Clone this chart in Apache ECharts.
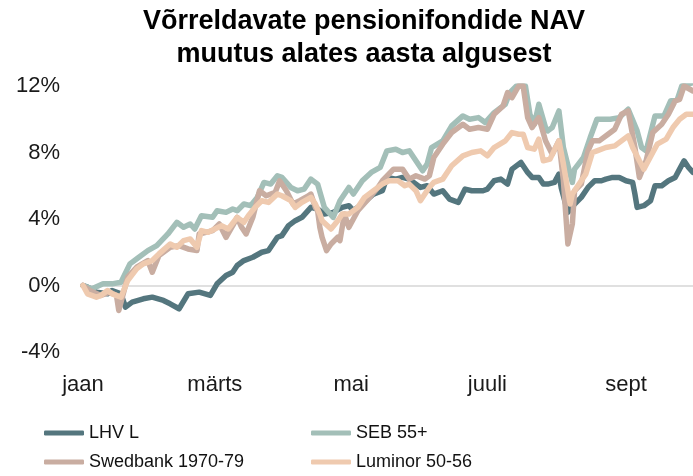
<!DOCTYPE html>
<html lang="et" style="height: 100%">

<head>
  <meta charset="utf-8">
</head>

<body style="height: 100%; margin: 0;">
  <div id="container" style="width: 693px; height: 476px;"></div>

  <script type="text/javascript" src="https://cdn.jsdelivr.net/npm/echarts@6/dist/echarts.min.js"></script>

  <script type="text/javascript">
    // x = päev aasta algusest, y = muutus %
    var monthLabels = ['jaan', 'märts', 'mai', 'juuli', 'sept'];
    var monthDays = [0, 59, 120, 181, 243];

    var lhv = [[0,0],[2,-0.1],[6,-0.4],[11,-0.5],[13,-0.3],[17,-0.5],[19,-1.3],[22,-1.0],[27,-0.8],[31,-0.7],[36,-0.9],[39,-1.1],[43,-1.4],[47,-0.5],[52,-0.4],[57,-0.6],[60,0.1],[64,0.6],[67,0.8],[69,1.2],[72,1.5],[76,1.7],[80,2.0],[83,2.1],[87,2.9],[89,3.0],[92,3.6],[95,3.9],[98,4.1],[102,4.7],[105,4.6],[108,4.3],[112,4.4],[116,4.7],[119,4.8],[121,4.5],[125,4.9],[130,5.5],[134,5.7],[136,6.5],[140,6.4],[143,6.5],[146,6.4],[151,5.9],[154,6.0],[157,5.5],[161,5.7],[164,5.2],[168,5.0],[171,5.8],[174,5.7],[179,5.7],[181,5.8],[184,6.3],[187,6.4],[190,6.1],[192,7.0],[196,7.4],[199,6.8],[201,6.5],[204,6.5],[206,6.1],[208,6.1],[211,6.2],[213,6.7],[214,5.9],[217,4.4],[220,4.9],[223,5.3],[226,5.9],[229,6.3],[232,6.3],[234,6.4],[237,6.5],[240,6.5],[243,6.3],[246,6.2],[247,5.5],[248,4.7],[251,4.8],[254,5.1],[256,6.0],[259,6.0],[262,6.3],[265,6.5],[267,7.0],[269,7.5],[271,7.1],[273,6.8]];

    var seb = [[0,0],[4,-0.2],[9,0.1],[13,0.1],[17,0.2],[21,1.3],[25,1.7],[29,2.1],[33,2.4],[38,3.1],[42,3.8],[45,3.5],[48,3.7],[50,3.4],[53,4.2],[58,4.1],[60,4.5],[64,4.4],[67,4.6],[69,4.5],[72,4.9],[75,4.8],[78,5.3],[81,6.2],[84,6.1],[87,6.6],[89,6.5],[93,5.9],[96,5.7],[99,5.8],[102,6.4],[105,6.1],[108,4.7],[112,4.1],[115,5.1],[119,5.9],[121,5.5],[125,6.3],[129,6.8],[133,7.1],[136,8.1],[140,8.2],[143,8.0],[146,8.1],[149,7.5],[152,6.9],[154,7.3],[156,8.3],[161,8.7],[165,9.6],[170,10.2],[173,10.0],[177,10.1],[180,9.8],[184,10.4],[189,10.9],[191,11.6],[194,12.0],[198,12.0],[200,10.3],[202,9.7],[204,10.9],[207,9.5],[208,9.3],[210,9.5],[213,10.5],[215,8.3],[218,6.7],[219,6.2],[220,7.0],[224,7.7],[227,8.9],[230,10.0],[236,10.0],[240,10.1],[244,10.6],[248,9.3],[250,8.3],[252,8.1],[256,10.2],[260,10.2],[263,11.1],[266,11.2],[268,12.0],[273,12.2]];

    var swedbank = [[0,0],[3,-0.3],[8,-0.6],[12,-0.4],[15,-0.6],[16,-1.5],[20,0.5],[24,1.1],[29,1.5],[31,0.8],[34,1.8],[39,2.3],[43,2.4],[47,2.2],[51,2.1],[52,3.1],[55,3.2],[58,3.3],[61,3.7],[64,2.9],[67,3.6],[69,4.1],[71,3.5],[73,3.1],[76,4.1],[79,5.7],[82,5.4],[86,5.6],[88,6.3],[91,5.7],[94,4.9],[97,5.1],[101,5.4],[102,5.5],[104,4.7],[105,4.5],[106,3.5],[107,2.9],[109,2.1],[111,2.5],[114,2.9],[115,2.7],[117,4.3],[119,3.5],[123,4.5],[127,5.1],[132,5.9],[134,6.3],[139,7.0],[143,7.0],[146,6.4],[149,6.6],[153,6.4],[155,6.6],[157,7.7],[161,8.5],[165,9.2],[170,9.7],[173,9.4],[177,9.5],[181,9.4],[184,10.3],[188,10.8],[190,11.6],[192,11.3],[195,12.0],[197,12.0],[199,10.1],[201,9.5],[204,10.1],[207,8.7],[210,7.9],[213,8.7],[215,6.3],[217,2.5],[219,3.7],[220,5.7],[223,6.1],[226,8.1],[228,8.7],[231,8.7],[235,9.1],[238,9.4],[241,10.3],[244,10.5],[247,8.3],[249,6.5],[252,7.5],[255,9.2],[259,9.7],[262,10.3],[265,11.1],[267,11.2],[269,12.0],[273,11.7]];

    var luminor = [[0,0],[2,-0.5],[6,-0.7],[8,-0.6],[11,-0.3],[13,-0.5],[17,-0.7],[20,0.3],[24,1.0],[27,1.3],[31,1.5],[34,1.9],[39,2.5],[42,2.3],[45,2.7],[48,2.8],[51,2.3],[53,3.3],[56,3.2],[59,3.4],[62,3.6],[65,3.4],[69,4.1],[72,3.8],[74,4.2],[77,4.7],[80,5.1],[83,5.0],[87,5.5],[89,5.4],[93,5.1],[95,4.7],[98,5.0],[102,5.3],[104,4.9],[106,4.3],[107,3.9],[111,3.4],[114,3.9],[116,4.3],[119,4.3],[123,4.7],[126,5.3],[130,5.7],[134,6.1],[137,6.3],[141,6.3],[144,6.0],[146,6.1],[149,5.7],[151,5.1],[153,5.5],[155,5.9],[157,6.2],[161,6.4],[165,7.2],[170,7.8],[174,8.0],[178,8.1],[181,7.8],[184,8.3],[189,8.7],[192,9.2],[195,9.1],[197,9.1],[199,8.3],[202,8.2],[204,8.8],[206,7.5],[209,7.6],[213,8.7],[215,7.3],[218,4.9],[219,5.5],[222,6.1],[225,6.7],[228,8.0],[230,8.1],[234,8.3],[238,8.4],[241,8.7],[244,9.0],[246,8.3],[249,7.5],[251,7.0],[255,8.0],[257,8.5],[261,8.8],[264,9.5],[267,10.0],[270,10.3],[273,10.3]];

    var yTicks = [-4, 0, 4, 8, 12];

    var dom = document.getElementById('container');
    var myChart = echarts.init(dom, null, { renderer: 'canvas' });

    function line(name, data, color) {
      return {
        name: name,
        type: 'line',
        data: data,
        symbol: 'none',
        showSymbol: false,
        clip: true,
        lineStyle: { width: 5.5, color: color, cap: 'round', join: 'round' },
        itemStyle: { color: color }
      };
    }

    // one legend per item so the 2x2 grid stays put
    function legendItem(name, left, top) {
      return {
        data: [name],
        left: left,
        top: top,
        padding: 0,
        icon: 'roundRect',
        itemWidth: 40,
        itemHeight: 5,
        textStyle: { fontFamily: 'Liberation Sans', fontSize: 18, color: '#111' }
      };
    }

    var option = {
      animation: false,
      title: {
        text: 'Võrreldavate pensionifondide NAV\nmuutus alates aasta algusest',
        left: 359,
        top: 0,
        textAlign: 'center',
        textStyle: {
          fontFamily: 'Liberation Sans',
          fontWeight: 'bold',
          fontSize: 27,
          lineHeight: 33,
          color: '#000'
        }
      },
      legend: [
        legendItem('LHV L', 44, 424),
        legendItem('SEB 55+', 311, 424),
        legendItem('Swedbank 1970-79', 44, 453),
        legendItem('Luminor 50-56', 311, 453)
      ],
      grid: { left: 83, right: 0, top: 86, bottom: 124 },
      xAxis: {
        type: 'value',
        min: 0,
        max: 273,
        axisLine: { show: false },
        axisTick: { show: false },
        splitLine: { show: false },
        axisLabel: {
          customValues: monthDays,
          margin: 22,
          fontFamily: 'Liberation Sans',
          fontSize: 22,
          color: '#1a1a1a',
          formatter: function (v) {
            var i = monthDays.indexOf(v);
            return i >= 0 ? monthLabels[i] : '';
          }
        }
      },
      yAxis: {
        type: 'value',
        min: yTicks[0],
        max: yTicks[yTicks.length - 1],
        interval: 4,
        axisLine: { show: false },
        axisTick: { show: false },
        axisLabel: {
          margin: 23,
          fontFamily: 'Liberation Sans',
          fontSize: 22,
          color: '#1a1a1a',
          formatter: '{value}%'
        },
        splitLine: {
          show: true,
          lineStyle: {
            width: 1.5,
            color: ['rgba(0,0,0,0)', '#d6d6d6', 'rgba(0,0,0,0)', 'rgba(0,0,0,0)', 'rgba(0,0,0,0)']
          }
        }
      },
      series: [
        line('LHV L', lhv, '#54767e'),
        line('SEB 55+', seb, '#a3bfb8'),
        line('Swedbank 1970-79', swedbank, '#c9ada1'),
        line('Luminor 50-56', luminor, '#efcaaf')
      ]
    };

    myChart.setOption(option);
    window.addEventListener('resize', myChart.resize);
  </script>
</body>

</html>
